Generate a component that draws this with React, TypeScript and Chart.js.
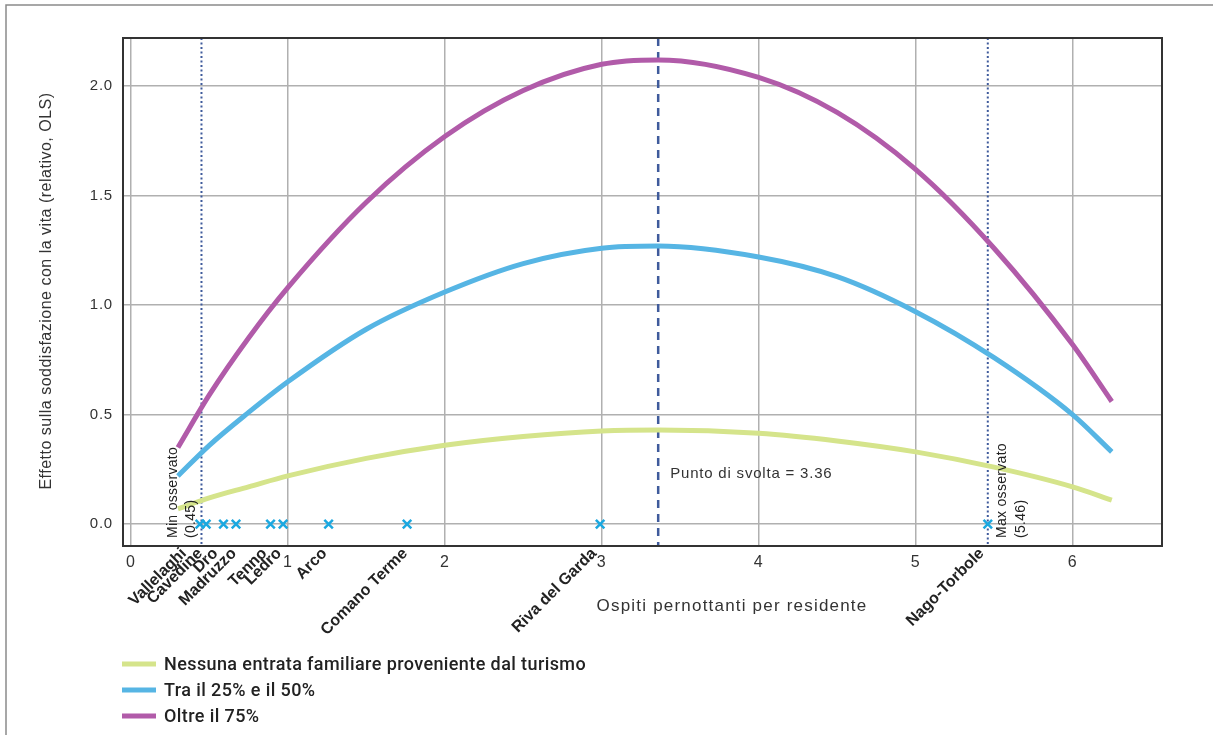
import React, { useEffect, useRef } from "react";
import { Chart, registerables } from "chart.js";

Chart.register(...registerables);

// ---- data ----
const xValues = [0.3, 0.5, 0.75, 1, 1.5, 2, 2.5, 3, 3.36, 4, 4.5, 5, 5.5, 6, 6.25];
const noneValues = [0.07, 0.12, 0.17, 0.22, 0.3, 0.36, 0.4, 0.425, 0.43, 0.415, 0.38, 0.33, 0.26, 0.17, 0.11];
const midValues = [0.22, 0.36, 0.51, 0.65, 0.89, 1.06, 1.19, 1.26, 1.27, 1.22, 1.13, 0.97, 0.76, 0.5, 0.33];
const highValues = [0.35, 0.59, 0.85, 1.08, 1.47, 1.77, 1.98, 2.1, 2.12, 2.04, 1.88, 1.62, 1.26, 0.82, 0.56];
const seriesLabels = [
  "Nessuna entrata familiare proveniente dal turismo",
  "Tra il 25% e il 50%",
  "Oltre il 75%",
];
const towns = [
  "Vallelaghi",
  "Cavedine",
  "Dro",
  "Madruzzo",
  "Tenno",
  "Ledro",
  "Arco",
  "Comano Terme",
  "Riva del Garda",
  "Nago-Torbole",
];
const townValues = [0.44, 0.48, 0.59, 0.67, 0.89, 0.97, 1.26, 1.76, 2.99, 5.46];
const minObserved = 0.45;
const maxObserved = 5.46;
const turningPoint = 3.36;
const xTitle = "Ospiti pernottanti per residente";
const yTitle = "Effetto sulla soddisfazione con la vita (relativo, OLS)";

const COLORS = ["#d5e48b", "#56b5e4", "#b15ba9"];
const FONT = "'Liberation Sans', Arial, sans-serif";
const townShift = [-14, -4, -6, 0, -4, -2, -2, 0, -4, -4];

const overlay = {
  id: "overlay",
  beforeDraw(chart: any) {
    chart.ctx.letterSpacing = "0.8px";
  },
  beforeDatasetsDraw(chart: any) {
    const { ctx, chartArea: a, scales } = chart;
    const xs = scales.x;
    ctx.save();
    const drawV = (v: number, dash: number[], w: number) => {
      const px = xs.getPixelForValue(v);
      ctx.beginPath();
      ctx.setLineDash(dash);
      ctx.lineWidth = w;
      ctx.strokeStyle = "#3f5b9c";
      ctx.moveTo(px, a.top);
      ctx.lineTo(px, a.bottom);
      ctx.stroke();
    };
    drawV(minObserved, [2, 2.5], 2);
    drawV(maxObserved, [2, 2.5], 2);
    drawV(turningPoint, [8, 6], 2.5);
    ctx.setLineDash([]);
    ctx.restore();
  },
  afterDraw(chart: any) {
    const { ctx, chartArea: a, scales } = chart;
    const xs = scales.x;
    const W = chart.width;
    const H = chart.height;
    ctx.save();
    // outer frame
    ctx.strokeStyle = "#8a8a8a";
    ctx.lineWidth = 1.5;
    ctx.beginPath();
    ctx.moveTo(6, H);
    ctx.lineTo(6, 5);
    ctx.lineTo(W, 5);
    ctx.stroke();
    // plot border
    ctx.strokeStyle = "#333";
    ctx.lineWidth = 2;
    ctx.strokeRect(a.left, a.top, a.right - a.left, a.bottom - a.top);

    // rotated ref texts
    ctx.fillStyle = "#222";
    ctx.letterSpacing = "0.3px";
    ctx.font = `14px ${FONT}`;
    ctx.textAlign = "left";
    ctx.textBaseline = "middle";
    const vText = (x: number, txt: string) => {
      ctx.save();
      ctx.translate(x, 538);
      ctx.rotate(-Math.PI / 2);
      ctx.fillText(txt, 0, 0);
      ctx.restore();
    };
    const minPx = xs.getPixelForValue(minObserved);
    vText(minPx - 28, "Min osservato");
    vText(minPx - 10, `(${minObserved.toFixed(2)})`);
    const maxPx = xs.getPixelForValue(maxObserved);
    vText(maxPx + 14, "Max osservato");
    vText(maxPx + 33, `(${maxObserved.toFixed(2)})`);
    const tpPx = xs.getPixelForValue(turningPoint);
    ctx.fillStyle = "#333";
    ctx.letterSpacing = "0.8px";
    ctx.font = `15px ${FONT}`;
    ctx.fillText(`Punto di svolta = ${turningPoint.toFixed(2)}`, tpPx + 12, 474);

    // town labels
    ctx.fillStyle = "#222";
    ctx.letterSpacing = "0px";
    ctx.font = `bold 16px ${FONT}`;
    ctx.textAlign = "right";
    ctx.textBaseline = "middle";
    towns.forEach((t, i) => {
      const px = xs.getPixelForValue(townValues[i]) + townShift[i];
      ctx.save();
      ctx.translate(px - 2, 551);
      ctx.rotate(-Math.PI / 4);
      ctx.fillText(t, 0, 0);
      ctx.restore();
    });

    // axis titles
    ctx.fillStyle = "#333";
    ctx.letterSpacing = "1.2px";
    ctx.font = `17px ${FONT}`;
    ctx.textAlign = "center";
    ctx.fillText(xTitle, 732, 606);
    ctx.save();
    ctx.translate(47, 291);
    ctx.rotate(-Math.PI / 2);
    ctx.letterSpacing = "0.5px";
    ctx.font = `16px ${FONT}`;
    ctx.fillText(yTitle, 0, 0);
    ctx.restore();

    // legend
    ctx.textAlign = "left";
    ctx.letterSpacing = "0.4px";
    ctx.font = `500 18px Roboto, ${FONT}`;
    const ly = [664, 690, 716];
    seriesLabels.forEach((l, i) => {
      ctx.strokeStyle = COLORS[i];
      ctx.lineWidth = 5;
      ctx.beginPath();
      ctx.moveTo(122, ly[i]);
      ctx.lineTo(156, ly[i]);
      ctx.stroke();
      ctx.fillStyle = "#222";
      ctx.fillText(l, 164, ly[i] + 1);
    });
    ctx.restore();
  },
};

export default function App() {
  const ref = useRef<HTMLCanvasElement | null>(null);
  useEffect(() => {
    if (!ref.current) return;
    const mk = (vals: number[]) => xValues.map((x, i) => ({ x, y: vals[i] }));
    const lineDs = (vals: number[], i: number) => ({
      type: "line" as const,
      label: seriesLabels[i],
      data: mk(vals),
      borderColor: COLORS[i],
      backgroundColor: COLORS[i],
      borderWidth: 5,
      pointRadius: 0,
      tension: 0.4,
      cubicInterpolationMode: "monotone" as const,
      fill: false,
      order: 2,
    });
    const chart = new Chart(ref.current, {
      type: "line",
      data: {
        datasets: [
          lineDs(noneValues, 0),
          lineDs(midValues, 1),
          lineDs(highValues, 2),
          {
            type: "scatter" as any,
            label: "Comuni",
            data: townValues.map((x) => ({ x, y: 0 })),
            showLine: false,
            pointStyle: "crossRot",
            pointRadius: 6,
            borderWidth: 2.5,
            borderColor: "#1ba8e0",
            backgroundColor: "#1ba8e0",
            order: 1,
          } as any,
        ],
      },
      options: {
        animation: false,
        responsive: false,
        maintainAspectRatio: false,
        layout: { padding: { left: 63, top: 38, right: 51, bottom: 149 } },
        plugins: { legend: { display: false }, tooltip: { enabled: false } },
        scales: {
          x: {
            type: "linear",
            min: -0.05,
            max: 6.57,
            afterFit: (s: any) => {
              s.height = 40;
            },
            ticks: {
              stepSize: 1,
              includeBounds: false,
              padding: 7,
              color: "#333",
              font: { family: FONT, size: 16 },
              callback: (v: any) => String(v),
            },
            grid: { color: "#b0b0b0", lineWidth: 1.5, drawTicks: false },
            border: { color: "#333", width: 2 },
          },
          y: {
            type: "linear",
            min: -0.1,
            max: 2.22,
            afterFit: (s: any) => {
              s.width = 60;
            },
            ticks: {
              stepSize: 0.5,
              includeBounds: false,
              padding: 10,
              color: "#333",
              font: { family: FONT, size: 15 },
              callback: (v: any) => Number(v).toFixed(1),
            },
            grid: { color: "#b0b0b0", lineWidth: 1.5, drawTicks: false },
            border: { color: "#333", width: 2 },
          },
        },
      },
      plugins: [overlay],
    });
    return () => chart.destroy();
  }, []);
  return (
    <div style={{ position: "absolute", left: 0, top: 0, width: 1213, height: 735, background: "#fff" }}>
      <canvas ref={ref} width={1213} height={735} style={{ width: 1213, height: 735 }} />
    </div>
  );
}
